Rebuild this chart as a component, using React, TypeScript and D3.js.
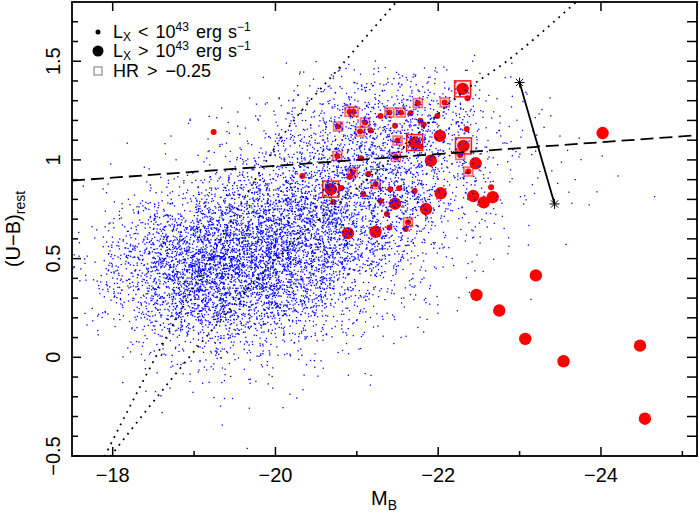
import React from "react";
import * as d3 from "d3";

const W = 699;
const H = 517;
const plot = { left: 72, right: 697, top: 2, bottom: 456 };
const font = "'Liberation Sans', Arial, Helvetica, sans-serif";

// axis ranges and ticks
const xDomain = [-17.5, -25.18];
const yDomain = [-0.5, 1.8];
const xMajor = [-18, -20, -22, -24];
const xMinor = [-19, -21, -23, -25];
const yMajor = [-0.5, 0, 0.5, 1, 1.5];
const yMajorLabels = ["\u22120.5", "0", "0.5", "1", "1.5"];
const yMinor = [-0.4, -0.3, -0.2, -0.1, 0.1, 0.2, 0.3, 0.4, 0.6, 0.7, 0.8, 0.9, 1.1, 1.2, 1.3, 1.4, 1.6, 1.7];

// blue galaxy cloud, read as counts per cell (M_B bins of 0.5, U-B bins of 0.1)
const cloudMagStart = [-17.5, -18, -18.5, -19, -19.5, -20, -20.5, -21, -21.5, -22, -22.5, -23, -23.5, -24];
const cloudColorStart = [1.4, 1.3, 1.2, 1.1, 1.0, 0.9, 0.8, 0.7, 0.6, 0.5, 0.4, 0.3, 0.2, 0.1, 0.0, -0.1, -0.2, -0.3, -0.4];
const cloudCounts = [
  [0, 0, 0, 0, 0, 3, 8, 10, 10, 8, 2, 0, 0, 0],
  [0, 0, 0, 0, 2, 6, 25, 35, 35, 25, 6, 2, 0, 0],
  [0, 0, 0, 2, 6, 18, 50, 60, 55, 40, 10, 3, 0, 0],
  [0, 0, 1, 4, 12, 35, 70, 85, 70, 45, 12, 4, 0, 0],
  [0, 1, 3, 8, 25, 55, 90, 95, 75, 45, 12, 4, 2, 0],
  [0, 2, 6, 15, 45, 80, 105, 100, 75, 40, 10, 4, 3, 1],
  [1, 6, 18, 45, 85, 120, 125, 105, 70, 35, 8, 3, 3, 1],
  [3, 18, 50, 105, 145, 160, 140, 105, 60, 25, 6, 2, 1, 0],
  [6, 40, 100, 170, 200, 180, 140, 90, 45, 15, 4, 1, 0, 0],
  [10, 60, 150, 220, 230, 190, 130, 70, 30, 10, 3, 0, 0, 0],
  [12, 70, 170, 240, 230, 170, 100, 50, 20, 6, 2, 0, 0, 0],
  [10, 60, 150, 210, 190, 130, 70, 30, 10, 3, 1, 0, 0, 0],
  [6, 40, 110, 150, 130, 85, 40, 15, 5, 2, 0, 0, 0, 0],
  [3, 20, 60, 85, 70, 45, 20, 8, 3, 0, 0, 0, 0, 0],
  [1, 8, 25, 35, 30, 20, 8, 3, 1, 0, 0, 0, 0, 0],
  [0, 3, 8, 12, 12, 8, 4, 1, 0, 0, 0, 0, 0, 0],
  [0, 1, 3, 5, 5, 3, 2, 0, 0, 0, 0, 0, 0, 0],
  [0, 0, 1, 2, 2, 1, 0, 0, 0, 0, 0, 0, 0, 0],
  [0, 0, 0, 1, 1, 0, 0, 0, 0, 0, 0, 0, 0, 0],
];

// X-ray sources: [M_B, U-B, hard (HR > -0.25)]
const faintSources = [
  [-22.36, 1.313, 0], [-21.75, 1.288, 1], [-22.08, 1.291, 1], [-20.91, 1.244, 1], [-20.96, 1.244, 1],
  [-21.29, 1.223, 0], [-21.4, 1.24, 1], [-21.54, 1.24, 1], [-21.66, 1.237, 0], [-21.99, 1.223, 0],
  [-21.78, 1.198, 0], [-21.82, 1.179, 0], [-20.77, 1.169, 1], [-21.1, 1.189, 1], [-21.04, 1.144, 1],
  [-21.17, 1.149, 0], [-21.47, 1.173, 0], [-22.35, 1.156, 0], [-21.5, 1.098, 1], [-21.78, 1.068, 0],
  [-22.27, 1.025, 1], [-20.76, 1.02, 1], [-21.05, 1.008, 0], [-21.48, 1.015, 1], [-22.37, 0.941, 1],
  [-20.33, 0.919, 0], [-20.95, 0.937, 1], [-20.91, 0.914, 0], [-21.14, 0.929, 0], [-21.23, 0.877, 1],
  [-20.81, 0.858, 0], [-21.08, 0.826, 0], [-21.41, 0.851, 0], [-21.52, 0.856, 0], [-21.71, 0.843, 0],
  [-22.65, 0.861, 0], [-20.71, 0.787, 0], [-21.29, 0.792, 0], [-21.37, 0.726, 0], [-21.63, 0.684, 1],
  [-21.4, 0.658, 0], [-21.6, 0.65, 0], [-19.24, 1.142, 0],
];
const brightSources = [
  [-22.3, 1.36, 1], [-22.02, 1.122, 0], [-21.71, 1.088, 1], [-22.31, 1.071, 1], [-21.91, 0.996, 0],
  [-22.46, 0.983, 0], [-20.68, 0.852, 1], [-22.03, 0.831, 0], [-22.43, 0.817, 0], [-22.56, 0.785, 0],
  [-22.67, 0.811, 0], [-21.47, 0.778, 0], [-21.85, 0.751, 0], [-20.89, 0.629, 0], [-21.23, 0.636, 0],
  [-24.02, 1.136, 0], [-23.2, 0.415, 0], [-22.47, 0.316, 0], [-22.75, 0.237, 0], [-23.07, 0.093, 0],
  [-23.54, -0.02, 0], [-24.48, 0.059, 0], [-24.54, -0.311, 0],
];

// dividing line U-B = 1.0 - 0.03 (M_B + 21)
const dividerMag = [-17.5, -25.18];
const dividerColor = [0.895, 1.125];

// dotted limit curves
const limitA = [[-17.9, -0.503], [-18.03, -0.396], [-19.33, 0.599], [-20.14, 1.152], [-20.81, 1.479], [-21.49, 1.802]];
const limitB = [[-17.97, -0.503], [-18.2, -0.381], [-20.3, 0.611], [-21.02, 0.864], [-21.65, 1.093], [-22.23, 1.321], [-22.84, 1.499], [-23.7, 1.802]];

// reddening vector
const vector = [[-23.0, 1.392], [-23.43, 0.777]];

const x = d3.scaleLinear().domain(xDomain).range([plot.left, plot.right]);
const y = d3.scaleLinear().domain(yDomain).range([plot.bottom, plot.top]);

function buildCloud() {
  const rng = d3.randomLcg(0.4217);
  const jm = d3.randomNormal.source(rng)(0, 0.14);
  const ju = d3.randomNormal.source(rng)(0, 0.03);
  const pts: [number, number][] = [];
  cloudCounts.forEach((row, r) => {
    row.forEach((n, c) => {
      for (let k = 0; k < n; k++) {
        const m = cloudMagStart[c] - rng() * 0.5 + jm();
        const u = cloudColorStart[r] + rng() * 0.1 + ju();
        pts.push([m, u]);
      }
    });
  });
  return pts;
}

const cloud = buildCloud();

function Asterisk({ cx, cy }: { cx: number; cy: number }) {
  const s = 5;
  const d = s * 0.72;
  return (
    <g stroke="#000" strokeWidth={1}>
      <line x1={cx - s} y1={cy} x2={cx + s} y2={cy} />
      <line x1={cx} y1={cy - s} x2={cx} y2={cy + s} />
      <line x1={cx - d} y1={cy - d} x2={cx + d} y2={cy + d} />
      <line x1={cx - d} y1={cy + d} x2={cx + d} y2={cy - d} />
    </g>
  );
}

function LxLabel({ yb, op }: { yb: number; op: string }) {
  const s = 12;
  return (
    <text x={113} y={yb}>
      L<tspan dy={2.5} fontSize={s}>X</tspan>
      <tspan dy={-2.5} dx={7}>{op}</tspan>
      <tspan dx={7}>10</tspan>
      <tspan dy={-7} fontSize={s}>43</tspan>
      <tspan dy={7} dx={7}>erg</tspan>
      <tspan dx={6}>s</tspan>
      <tspan dy={-7} fontSize={s}>{"\u22121"}</tspan>
    </text>
  );
}

export default function App() {
  const lineGen = d3
    .line<number[]>()
    .x((d) => x(d[0]))
    .y((d) => y(d[1]))
    .curve(d3.curveMonotoneX);
  const straight = d3
    .line<number[]>()
    .x((d) => x(d[0]))
    .y((d) => y(d[1]));

  return (
    <svg width={W} height={H} style={{ position: "absolute", left: 0, top: 0, background: "#fff" }} fontFamily={font}>
      <defs>
        <clipPath id="plotclip">
          <rect x={plot.left} y={plot.top} width={plot.right - plot.left} height={plot.bottom - plot.top} />
        </clipPath>
      </defs>

      <g clipPath="url(#plotclip)">
        {/* hard-source squares */}
        {faintSources.filter((d) => d[2]).map((d, i) => (
          <rect key={"fs" + i} x={x(d[0]) - 4.5} y={y(d[1]) - 4.5} width={9} height={9}
            fill="rgba(255,0,0,0.15)" stroke="rgba(255,0,0,0.55)" strokeWidth={1.6} />
        ))}
        {brightSources.filter((d) => d[2]).map((d, i) => (
          <rect key={"bs" + i} x={x(d[0]) - 8} y={y(d[1]) - 8} width={16} height={16}
            fill="rgba(255,0,0,0.12)" stroke="rgba(255,0,0,0.9)" strokeWidth={1.5} />
        ))}
        {faintSources.map((d, i) => (
          <circle key={"f" + i} cx={x(d[0])} cy={y(d[1])} r={3} fill="#ff0000" />
        ))}
        {brightSources.map((d, i) => (
          <circle key={"b" + i} cx={x(d[0])} cy={y(d[1])} r={6.2} fill="#ff0000" />
        ))}
        {/* galaxy cloud */}
        {cloud.map((d, i) => (
          <rect key={"c" + i} x={x(d[0]) - 0.65} y={y(d[1]) - 0.65} width={1.3} height={1.3} fill="#0000ff" />
        ))}

        <path d={straight(dividerMag.map((m, i) => [m, dividerColor[i]])) || ""} fill="none" stroke="#000"
          strokeWidth={1.8} strokeDasharray="13 6" />
        <path d={lineGen(limitA) || ""} fill="none" stroke="#000" strokeWidth={1.8} strokeDasharray="1.8 5.2" />
        <path d={lineGen(limitB) || ""} fill="none" stroke="#000" strokeWidth={1.8} strokeDasharray="1.8 5.2" />
        <path d={straight(vector) || ""} fill="none" stroke="#000" strokeWidth={1.8} />
        {vector.map((d, i) => (
          <Asterisk key={"a" + i} cx={x(d[0])} cy={y(d[1])} />
        ))}
      </g>

      {/* frame */}
      <rect x={plot.left} y={plot.top} width={plot.right - plot.left} height={plot.bottom - plot.top}
        fill="none" stroke="#000" strokeWidth={1.8} />

      {/* ticks */}
      <g stroke="#000" strokeWidth={1.5}>
        {xMajor.map((t) => (
          <g key={"xm" + t}>
            <line x1={x(t)} x2={x(t)} y1={plot.bottom} y2={plot.bottom - 9} />
            <line x1={x(t)} x2={x(t)} y1={plot.top} y2={plot.top + 9} />
          </g>
        ))}
        {xMinor.map((t) => (
          <line key={"xn" + t} x1={x(t)} x2={x(t)} y1={plot.bottom} y2={plot.bottom - 5} />
        ))}
        {yMajor.map((t) => (
          <g key={"ym" + t}>
            <line x1={plot.left} x2={plot.left + 9} y1={y(t)} y2={y(t)} />
            <line x1={plot.right} x2={plot.right - 10} y1={y(t)} y2={y(t)} />
          </g>
        ))}
        {yMinor.map((t) => (
          <g key={"yn" + t}>
            <line x1={plot.left} x2={plot.left + 6} y1={y(t)} y2={y(t)} />
            <line x1={plot.right} x2={plot.right - 10} y1={y(t)} y2={y(t)} />
          </g>
        ))}
      </g>

      {/* tick labels */}
      <g fontSize={20} fill="#000">
        {xMajor.map((t) => (
          <text key={"xl" + t} x={x(t)} y={482} textAnchor="middle">{"\u2212" + Math.abs(t)}</text>
        ))}
        {yMajor.map((t, i) => (
          <text key={"yl" + t} transform={`translate(60,${y(t)}) rotate(-90)`} textAnchor="middle">
            {yMajorLabels[i]}
          </text>
        ))}
      </g>

      {/* axis titles */}
      <text x={384} y={505} textAnchor="middle" fontSize={20}>
        M<tspan dy={5} fontSize={14}>B</tspan>
      </text>
      <text transform={`translate(20,${(plot.top + plot.bottom) / 2}) rotate(-90)`} textAnchor="middle" fontSize={20}>
        (U{"\u2212"}B)<tspan dy={5} fontSize={14}>rest</tspan>
      </text>

      {/* legend */}
      <g fontSize={18}>
        <circle cx={98} cy={32} r={2.5} fill="#000" />
        <LxLabel yb={38} op="<" />
        <circle cx={98} cy={51} r={5.5} fill="#000" />
        <LxLabel yb={57} op=">" />
        <rect x={94} y={67} width={8} height={8} fill="none" stroke="#777" strokeWidth={1} />
        <text x={113} y={77}>
          HR<tspan dx={8}>{">"}</tspan>
          <tspan dx={8}>{"\u22120.25"}</tspan>
        </text>
      </g>
    </svg>
  );
}
